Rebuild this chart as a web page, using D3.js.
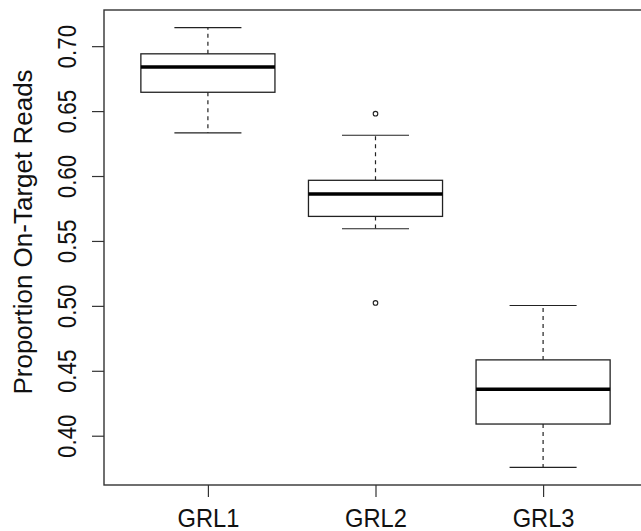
<!DOCTYPE html>
<html>
<head>
<meta charset="utf-8">
<script src="https://cdn.jsdelivr.net/npm/d3@7"></script>
<style>
  body { margin: 0; background: #fff; }
  text { font-family: "Liberation Sans", Arial, sans-serif; fill: #111; }
</style>
</head>
<body>
<div id="chart"></div>
<script>
//box plot data (five number summaries per group)
var groups = ["GRL1", "GRL2", "GRL3"];
var whiskerLow = [0.6332, 0.5594, 0.3756];
var quart1 = [0.6645, 0.5689, 0.4090];
var medians = [0.6840, 0.5861, 0.4358];
var quart3 = [0.6941, 0.5967, 0.4584];
var whiskerHigh = [0.7143, 0.6314, 0.5003];
var outliers = [[], [0.6480, 0.5023], []];
var yTicks = [0.40, 0.45, 0.50, 0.55, 0.60, 0.65, 0.70];

(function(){

  var width = 641;
  var height = 531;
  var left = 104, right = 647, top = 10, bottom = 485;

  var svg = d3.select("#chart")
    .append("svg")
    .attr("width", width)
    .attr("height", height)

  //R style: 4% padding around the data range
  var allVals = whiskerLow.concat(whiskerHigh, d3.merge(outliers));
  var lo = d3.min(allVals), hi = d3.max(allVals);
  var pad = (hi - lo) * 0.04;

  var y = d3.scaleLinear().domain([lo - pad, hi + pad]).range([bottom, top]);
  var x = d3.scaleLinear().domain([0.5 - 0.12, 3.5 + 0.12]).range([left, right]);

  var boxW = 0.4; //half width of box in group units
  var capW = 0.2;

  var data = groups.map(function(g, i){
    return {name: g, pos: i + 1, lo: whiskerLow[i], q1: quart1[i], med: medians[i],
      q3: quart3[i], hi: whiskerHigh[i], out: outliers[i]};
  });

  var boxes = svg.selectAll(".box")
    .data(data)
    .enter().append("g")
    .attr("class", "box")

  //dashed whiskers, drawn from the box outwards
  boxes.append("line")
    .attr("x1", function(d){ return x(d.pos) })
    .attr("x2", function(d){ return x(d.pos) })
    .attr("y1", function(d){ return y(d.q3) })
    .attr("y2", function(d){ return y(d.hi) })
    .attr("stroke", "#222").attr("stroke-width", 1.2)
    .attr("stroke-dasharray", "4,4")
  boxes.append("line")
    .attr("x1", function(d){ return x(d.pos) })
    .attr("x2", function(d){ return x(d.pos) })
    .attr("y1", function(d){ return y(d.q1) })
    .attr("y2", function(d){ return y(d.lo) })
    .attr("stroke", "#222").attr("stroke-width", 1.2)
    .attr("stroke-dasharray", "4,4")

  //whisker caps
  boxes.selectAll(".cap")
    .data(function(d){ return [{pos: d.pos, v: d.lo}, {pos: d.pos, v: d.hi}] })
    .enter().append("line")
    .attr("class", "cap")
    .attr("x1", function(d){ return x(d.pos - capW) })
    .attr("x2", function(d){ return x(d.pos + capW) })
    .attr("y1", function(d){ return y(d.v) })
    .attr("y2", function(d){ return y(d.v) })
    .attr("stroke", "#222").attr("stroke-width", 1.2)

  //the box itself
  boxes.append("rect")
    .attr("x", function(d){ return x(d.pos - boxW) })
    .attr("width", function(d){ return x(d.pos + boxW) - x(d.pos - boxW) })
    .attr("y", function(d){ return y(d.q3) })
    .attr("height", function(d){ return y(d.q1) - y(d.q3) })
    .attr("fill", "none")
    .attr("stroke", "#222").attr("stroke-width", 1.3)

  //thick median line
  boxes.append("line")
    .attr("x1", function(d){ return x(d.pos - boxW) })
    .attr("x2", function(d){ return x(d.pos + boxW) })
    .attr("y1", function(d){ return y(d.med) })
    .attr("y2", function(d){ return y(d.med) })
    .attr("stroke", "#000").attr("stroke-width", 3.6)

  //outlier points
  boxes.selectAll(".outlier")
    .data(function(d){ return d.out.map(function(v){ return {pos: d.pos, v: v} }) })
    .enter().append("circle")
    .attr("class", "outlier")
    .attr("cx", function(d){ return x(d.pos) })
    .attr("cy", function(d){ return y(d.v) })
    .attr("r", 2.3)
    .attr("fill", "none")
    .attr("stroke", "#222").attr("stroke-width", 1.1)

  //frame around plot region
  svg.append("rect")
    .attr("x", left).attr("y", top)
    .attr("width", right - left).attr("height", bottom - top)
    .attr("fill", "none")
    .attr("stroke", "#333").attr("stroke-width", 1.4)

  //y axis with rotated labels (glyphs a bit taller than wide, like the original)
  var yAxis = svg.append("g")
    .attr("transform", "translate(" + left + ",0)")
    .call(d3.axisLeft(y).tickValues(yTicks).tickSize(12).tickFormat(d3.format(".2f")))
  yAxis.select(".domain").remove()
  yAxis.selectAll(".tick line").attr("stroke", "#333").attr("stroke-width", 1.2)
  yAxis.selectAll(".tick text")
    .attr("transform", "rotate(-90) scale(0.88,1)")
    .attr("x", 0).attr("y", -28).attr("dy", 0)
    .attr("text-anchor", "middle")
    .style("font-size", "25.5px")
    .attr("fill", "#111")

  //x axis
  var xAxis = svg.append("g")
    .attr("transform", "translate(0," + bottom + ")")
    .call(d3.axisBottom(x).tickValues([1, 2, 3]).tickSize(12)
      .tickFormat(function(d){ return groups[d - 1] }))
  xAxis.select(".domain").remove()
  xAxis.selectAll(".tick line").attr("stroke", "#333").attr("stroke-width", 1.2)
  xAxis.selectAll(".tick text")
    .attr("transform", "translate(0,42) scale(0.93,1)")
    .attr("y", 0).attr("dy", 0)
    .style("font-size", "25.5px")
    .attr("fill", "#111")

  //y axis title
  svg.append("text")
    .attr("transform", "translate(32," + 232 + ") rotate(-90)")
    .attr("text-anchor", "middle")
    .style("font-size", "26px")
    .text("Proportion On-Target Reads")

})();
</script>
</body>
</html>
